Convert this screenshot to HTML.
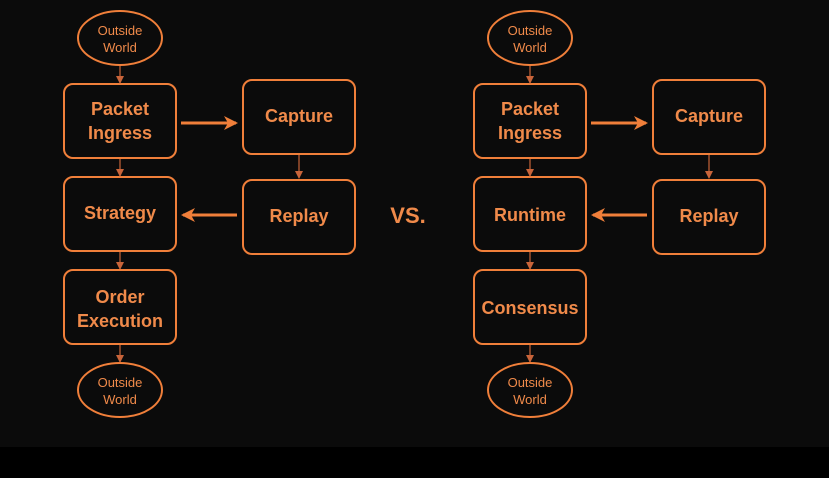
<!DOCTYPE html><html><head><style>html,body{margin:0;background:#000;overflow:hidden}svg{display:block}</style></head><body>
<svg width="829" height="478" xmlns="http://www.w3.org/2000/svg" font-family="Liberation Sans, sans-serif">
<rect width="829" height="447" fill="#0b0b0b"/>
<defs><marker id="a" markerWidth="8" markerHeight="8" refX="7" refY="4" orient="auto" markerUnits="userSpaceOnUse"><path d="M0,0 L8,4 L0,8 Z" fill="#c8643a"/></marker>
<marker id="b" markerWidth="14" markerHeight="14" refX="12" refY="7" orient="auto" markerUnits="userSpaceOnUse"><path d="M0,0 L14,7 L0,14 L4,7 Z" fill="#f07f3a"/></marker></defs>
<g id="L" fill="none" stroke="#f07f3a" stroke-width="2">
<ellipse cx="120" cy="38" rx="42" ry="27"/>
<rect x="64" y="84" width="112" height="74" rx="9"/>
<rect x="243" y="80" width="112" height="74" rx="9"/>
<rect x="64" y="177" width="112" height="74" rx="9"/>
<rect x="243" y="180" width="112" height="74" rx="9"/>
<ellipse cx="120" cy="390" rx="42" ry="27"/>
<g stroke="#c8643a" stroke-width="1.2">
<line x1="120" y1="66" x2="120" y2="83" marker-end="url(#a)"/>
<line x1="120" y1="159" x2="120" y2="176" marker-end="url(#a)"/>
<line x1="120" y1="252" x2="120" y2="269" marker-end="url(#a)"/>
<line x1="120" y1="345" x2="120" y2="362" marker-end="url(#a)"/>
<line x1="299" y1="155" x2="299" y2="178" marker-end="url(#a)"/>
</g>
<line x1="181" y1="123" x2="236" y2="123" stroke-width="3" marker-end="url(#b)"/>
<line x1="237" y1="215" x2="183" y2="215" stroke-width="3" marker-end="url(#b)"/>
</g>
<use href="#L" x="410"/>
<rect x="64" y="270" width="112" height="74" rx="9" fill="none" stroke="#f07f3a" stroke-width="2"/>
<rect x="474" y="270" width="112" height="74" rx="9" fill="none" stroke="#f07f3a" stroke-width="2"/>
<g fill="#f08a4a" font-weight="bold" text-anchor="middle" font-size="18">
<g font-size="13" font-weight="normal"><text x="120" y="35">Outside</text><text x="120" y="52">World</text>
<text x="530" y="35">Outside</text><text x="530" y="52">World</text>
<text x="120" y="387">Outside</text><text x="120" y="404">World</text>
<text x="530" y="387">Outside</text><text x="530" y="404">World</text></g>
<text x="120" y="115">Packet</text><text x="120" y="139">Ingress</text>
<text x="530" y="115">Packet</text><text x="530" y="139">Ingress</text>
<text x="299" y="122">Capture</text><text x="709" y="122">Capture</text>
<text x="120" y="219">Strategy</text><text x="530" y="221">Runtime</text>
<text x="299" y="222">Replay</text><text x="709" y="222">Replay</text>
<text x="120" y="303">Order</text><text x="120" y="327">Execution</text>
<text x="530" y="314">Consensus</text>
<text x="408" y="223" font-size="22">VS.</text>
</g>
</svg></body></html>
